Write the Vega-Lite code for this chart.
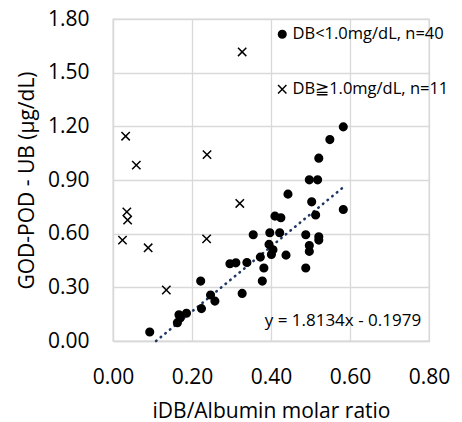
{
  "$schema": "https://vega.github.io/schema/vega-lite/v6.json",
  "autosize": {"type": "none"},
  "width": 316,
  "height": 322,
  "padding": {"left": 113, "top": 19, "right": 33, "bottom": 81},
  "background": "white",
  "config": {
    "font": "Open Sans",
    "view": {"stroke": "#d9d9d9", "strokeWidth": 1.3},
    "axis": {
      "gridColor": "#d9d9d9", "gridWidth": 1.3, "domainColor": "#d9d9d9", "domainWidth": 1.3,
      "ticks": false, "labelColor": "#000000", "titleColor": "#000000",
      "labelFont": "Open Sans", "titleFont": "Open Sans", "titleFontWeight": "normal",
      "labelFontSize": 21, "titleFontSize": 21, "labelFlush": false
    }
  },
  "datasets": {
    "pts": [
      {"x": 0.583, "y": 1.197, "g": "DB<1.0mg/dL, n=40"},
      {"x": 0.549, "y": 1.126, "g": "DB<1.0mg/dL, n=40"},
      {"x": 0.521, "y": 1.022, "g": "DB<1.0mg/dL, n=40"},
      {"x": 0.497, "y": 0.901, "g": "DB<1.0mg/dL, n=40"},
      {"x": 0.518, "y": 0.901, "g": "DB<1.0mg/dL, n=40"},
      {"x": 0.443, "y": 0.821, "g": "DB<1.0mg/dL, n=40"},
      {"x": 0.503, "y": 0.778, "g": "DB<1.0mg/dL, n=40"},
      {"x": 0.583, "y": 0.735, "g": "DB<1.0mg/dL, n=40"},
      {"x": 0.513, "y": 0.704, "g": "DB<1.0mg/dL, n=40"},
      {"x": 0.410, "y": 0.698, "g": "DB<1.0mg/dL, n=40"},
      {"x": 0.425, "y": 0.689, "g": "DB<1.0mg/dL, n=40"},
      {"x": 0.355, "y": 0.594, "g": "DB<1.0mg/dL, n=40"},
      {"x": 0.397, "y": 0.605, "g": "DB<1.0mg/dL, n=40"},
      {"x": 0.422, "y": 0.605, "g": "DB<1.0mg/dL, n=40"},
      {"x": 0.488, "y": 0.594, "g": "DB<1.0mg/dL, n=40"},
      {"x": 0.521, "y": 0.583, "g": "DB<1.0mg/dL, n=40"},
      {"x": 0.521, "y": 0.564, "g": "DB<1.0mg/dL, n=40"},
      {"x": 0.497, "y": 0.534, "g": "DB<1.0mg/dL, n=40"},
      {"x": 0.497, "y": 0.501, "g": "DB<1.0mg/dL, n=40"},
      {"x": 0.395, "y": 0.540, "g": "DB<1.0mg/dL, n=40"},
      {"x": 0.401, "y": 0.484, "g": "DB<1.0mg/dL, n=40"},
      {"x": 0.438, "y": 0.480, "g": "DB<1.0mg/dL, n=40"},
      {"x": 0.373, "y": 0.469, "g": "DB<1.0mg/dL, n=40"},
      {"x": 0.339, "y": 0.439, "g": "DB<1.0mg/dL, n=40"},
      {"x": 0.311, "y": 0.437, "g": "DB<1.0mg/dL, n=40"},
      {"x": 0.296, "y": 0.432, "g": "DB<1.0mg/dL, n=40"},
      {"x": 0.382, "y": 0.408, "g": "DB<1.0mg/dL, n=40"},
      {"x": 0.488, "y": 0.408, "g": "DB<1.0mg/dL, n=40"},
      {"x": 0.378, "y": 0.335, "g": "DB<1.0mg/dL, n=40"},
      {"x": 0.222, "y": 0.335, "g": "DB<1.0mg/dL, n=40"},
      {"x": 0.327, "y": 0.266, "g": "DB<1.0mg/dL, n=40"},
      {"x": 0.247, "y": 0.257, "g": "DB<1.0mg/dL, n=40"},
      {"x": 0.258, "y": 0.223, "g": "DB<1.0mg/dL, n=40"},
      {"x": 0.224, "y": 0.181, "g": "DB<1.0mg/dL, n=40"},
      {"x": 0.186, "y": 0.155, "g": "DB<1.0mg/dL, n=40"},
      {"x": 0.167, "y": 0.147, "g": "DB<1.0mg/dL, n=40"},
      {"x": 0.170, "y": 0.128, "g": "DB<1.0mg/dL, n=40"},
      {"x": 0.163, "y": 0.102, "g": "DB<1.0mg/dL, n=40"},
      {"x": 0.093, "y": 0.050, "g": "DB<1.0mg/dL, n=40"},
      {"x": 0.405, "y": 0.510, "g": "DB<1.0mg/dL, n=40"},
      {"x": 0.327, "y": 1.616, "g": "DB≧1.0mg/dL, n=11"},
      {"x": 0.032, "y": 1.145, "g": "DB≧1.0mg/dL, n=11"},
      {"x": 0.059, "y": 0.983, "g": "DB≧1.0mg/dL, n=11"},
      {"x": 0.238, "y": 1.042, "g": "DB≧1.0mg/dL, n=11"},
      {"x": 0.321, "y": 0.769, "g": "DB≧1.0mg/dL, n=11"},
      {"x": 0.035, "y": 0.722, "g": "DB≧1.0mg/dL, n=11"},
      {"x": 0.037, "y": 0.676, "g": "DB≧1.0mg/dL, n=11"},
      {"x": 0.024, "y": 0.564, "g": "DB≧1.0mg/dL, n=11"},
      {"x": 0.089, "y": 0.521, "g": "DB≧1.0mg/dL, n=11"},
      {"x": 0.237, "y": 0.571, "g": "DB≧1.0mg/dL, n=11"},
      {"x": 0.135, "y": 0.285, "g": "DB≧1.0mg/dL, n=11"}
    ],
    "trend": [
      {"x": 0.109, "y": 0.0},
      {"x": 0.587, "y": 0.867}
    ],
    "eq": [
      {"x": 0.78, "y": 0.11, "label": "y = 1.8134x - 0.1979"}
    ]
  },
  "encoding": {
    "x": {"field": "x", "type": "quantitative",
      "scale": {"domain": [0, 0.8], "nice": false, "zero": false},
      "axis": {"values": [0, 0.2, 0.4, 0.6, 0.8], "format": ".2f", "title": "iDB/Albumin molar ratio",
               "labelPadding": 25, "titlePadding": 13}},
    "y": {"field": "y", "type": "quantitative",
      "scale": {"domain": [0, 1.8], "nice": false, "zero": false},
      "axis": {"values": [0, 0.3, 0.6, 0.9, 1.2, 1.5, 1.8], "format": ".2f", "title": "GOD-POD - UB (μg/dL)",
               "labelPadding": 24, "titlePadding": 10}}
  },
  "layer": [
    {
      "data": {"name": "trend"},
      "mark": {"type": "line", "color": "#1f3864", "strokeWidth": 2.6, "strokeDash": [0.5, 5.5], "strokeCap": "round"},
      "encoding": {}
    },
    {
      "data": {"name": "pts"},
      "mark": {"type": "point", "filled": true, "fill": "black", "stroke": "black", "strokeWidth": 1.5, "opacity": 1},
      "encoding": {
        "shape": {"field": "g", "type": "nominal",
          "scale": {"domain": ["DB<1.0mg/dL, n=40", "DB≧1.0mg/dL, n=11"], "range": ["circle", "M-1,-1L1,1M-1,1L1,-1"]},
          "legend": {"title": null, "orient": "none", "legendX": 161, "legendY": 7, "padding": 0,
                     "labelFont": "Open Sans", "labelFontSize": 16.5, "labelColor": "black", "labelLimit": 400,
                     "rowPadding": 38, "symbolFillColor": "black", "symbolStrokeColor": "black",
                     "symbolStrokeWidth": 1.5, "symbolOpacity": 1, "labelOffset": 2}},
        "size": {"field": "g", "type": "nominal",
          "scale": {"domain": ["DB<1.0mg/dL, n=40", "DB≧1.0mg/dL, n=11"], "range": [58, 70]}}
      }
    },
    {
      "data": {"name": "eq"},
      "mark": {"type": "text", "align": "right", "baseline": "middle", "font": "Open Sans", "fontSize": 17, "color": "black"},
      "encoding": {"text": {"field": "label"}}
    }
  ]
}
